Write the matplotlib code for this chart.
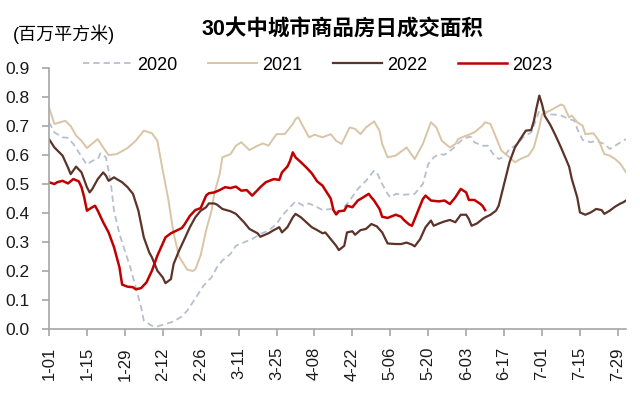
import numpy as np
import matplotlib
matplotlib.use("Agg")
import matplotlib.pyplot as plt

plt.rcParams['font.family'] = ['Liberation Sans', 'Noto Sans CJK SC', 'DejaVu Sans']

# day index counted from Jan 1 (0 = 1-01)
days_2020 = [0, 2, 5, 7, 9, 11, 13, 14, 16, 18, 19, 21, 22, 23, 24, 26, 28, 30, 32, 34,
             35, 38, 40, 43, 46, 49, 51, 54, 57, 60, 62, 64, 67, 69, 72, 75, 78, 81, 84, 86,
             89, 91, 94, 96, 99, 101, 104, 106, 108, 111, 114, 117, 120, 121, 123, 125, 126,
             128, 131, 135, 138, 140, 142, 144, 146, 149, 151, 152, 155, 156, 157, 160, 162,
             164, 166, 168, 170, 173, 175, 178, 179, 181, 182, 184, 187, 189, 192, 194, 195,
             197, 198, 200, 202, 205, 207, 209, 211, 213]
vals_2020 = [0.713, 0.678, 0.661, 0.659, 0.638, 0.609, 0.580, 0.567, 0.580, 0.586, 0.606,
             0.592, 0.546, 0.489, 0.408, 0.328, 0.270, 0.213, 0.144, 0.075, 0.029, 0.011,
             0.009, 0.017, 0.026, 0.043, 0.063, 0.105, 0.149, 0.178, 0.213, 0.236, 0.259,
             0.287, 0.299, 0.310, 0.328, 0.339, 0.362, 0.391, 0.420, 0.440, 0.425, 0.433,
             0.420, 0.410, 0.414, 0.405, 0.408, 0.443, 0.483, 0.511, 0.546, 0.540, 0.500,
             0.466, 0.454, 0.466, 0.463, 0.466, 0.500, 0.569, 0.592, 0.603, 0.601, 0.621,
             0.640, 0.649, 0.663, 0.661, 0.644, 0.632, 0.632, 0.603, 0.586, 0.594, 0.621,
             0.638, 0.661, 0.678, 0.701, 0.753, 0.759, 0.741, 0.739, 0.736, 0.724, 0.718,
             0.690, 0.652, 0.649, 0.644, 0.649, 0.638, 0.621, 0.632, 0.644, 0.655]

days_2021 = [0, 2, 6, 8, 10, 12, 14, 18, 20, 22, 25, 29, 32, 35, 38, 40, 42, 44, 46, 48,
             51, 53, 54, 56, 58, 60, 61, 63, 64, 67, 69, 71, 74, 77, 79, 81, 84, 87, 90, 91,
             92, 94, 96, 98, 101, 104, 106, 108, 111, 113, 115, 117, 120, 122, 123, 125, 128,
             132, 135, 138, 141, 143, 145, 148, 150, 151, 153, 155, 157, 160, 161, 163, 165,
             167, 170, 172, 174, 177, 179, 181, 182, 185, 187, 189, 190, 192, 193, 195, 197,
             198, 201, 203, 205, 207, 209, 211, 213]
vals_2021 = [0.764, 0.707, 0.718, 0.700, 0.667, 0.649, 0.624, 0.655, 0.626, 0.600, 0.603,
             0.624, 0.649, 0.684, 0.675, 0.649, 0.546, 0.450, 0.330, 0.250, 0.205, 0.200,
             0.205, 0.255, 0.340, 0.408, 0.466, 0.534, 0.592, 0.603, 0.632, 0.644, 0.617,
             0.632, 0.640, 0.632, 0.672, 0.672, 0.707, 0.724, 0.730, 0.695, 0.661, 0.670,
             0.661, 0.672, 0.649, 0.638, 0.695, 0.690, 0.672, 0.695, 0.716, 0.684, 0.638,
             0.592, 0.598, 0.626, 0.586, 0.638, 0.713, 0.695, 0.649, 0.626, 0.638, 0.655,
             0.663, 0.670, 0.678, 0.701, 0.713, 0.707, 0.661, 0.615, 0.592, 0.575, 0.586,
             0.598, 0.626, 0.695, 0.741, 0.753, 0.764, 0.774, 0.770, 0.730, 0.736, 0.713,
             0.701, 0.672, 0.675, 0.649, 0.603, 0.598, 0.586, 0.569, 0.540]

days_2022 = [0, 2, 5, 7, 8, 10, 12, 14, 15, 16, 18, 20, 21, 22, 24, 25, 27, 29, 31, 33,
             35, 37, 38, 40, 42, 43, 45, 46, 48, 50, 52, 54, 56, 58, 59, 61, 62, 64, 67, 69,
             72, 74, 77, 78, 81, 83, 85, 86, 88, 90, 91, 93, 95, 97, 99, 101, 102, 104, 106,
             107, 109, 110, 112, 113, 115, 117, 119, 121, 123, 125, 128, 130, 132, 134, 135,
             137, 139, 141, 142, 144, 146, 148, 150, 152, 154, 155, 156, 158, 160, 161, 163,
             165, 166, 168, 170, 172, 174, 176, 178, 179, 180, 181, 182, 183, 185, 187, 189,
             192, 193, 195, 196, 198, 200, 202, 204, 205, 207, 209, 211, 212, 213]
vals_2022 = [0.655, 0.626, 0.598, 0.557, 0.534, 0.560, 0.540, 0.489, 0.471, 0.483, 0.517,
             0.540, 0.529, 0.511, 0.523, 0.517, 0.506, 0.489, 0.466, 0.408, 0.316, 0.264,
             0.247, 0.201, 0.178, 0.158, 0.172, 0.224, 0.270, 0.310, 0.351, 0.385, 0.408,
             0.420, 0.433, 0.433, 0.429, 0.414, 0.406, 0.397, 0.368, 0.345, 0.330, 0.318,
             0.330, 0.341, 0.351, 0.333, 0.351, 0.385, 0.397, 0.385, 0.368, 0.351, 0.341,
             0.330, 0.333, 0.310, 0.287, 0.272, 0.287, 0.333, 0.337, 0.325, 0.341, 0.345,
             0.362, 0.354, 0.333, 0.295, 0.293, 0.293, 0.298, 0.291, 0.285, 0.310, 0.351,
             0.374, 0.356, 0.364, 0.371, 0.376, 0.368, 0.394, 0.394, 0.379, 0.356, 0.364,
             0.379, 0.385, 0.394, 0.408, 0.425, 0.500, 0.575, 0.626, 0.655, 0.684, 0.686,
             0.718, 0.764, 0.805, 0.775, 0.735, 0.705, 0.667, 0.626, 0.560, 0.517, 0.454,
             0.402, 0.394, 0.402, 0.414, 0.410, 0.397, 0.408, 0.422, 0.433, 0.437, 0.443]

days_2023 = [0, 2, 3, 5, 7, 9, 11, 12, 13, 14, 16, 17, 18, 20, 22, 24, 26, 27, 29, 31,
             32, 34, 36, 38, 40, 42, 43, 45, 47, 49, 50, 52, 54, 56, 58, 59, 61, 63, 65, 67,
             69, 71, 73, 75, 77, 78, 80, 83, 85, 86, 88, 89, 90, 91, 93, 95, 97, 99, 101,
             102, 104, 105, 106, 107, 109, 110, 112, 114, 116, 118, 119, 120, 122, 123, 125,
             128, 130, 131, 133, 134, 136, 138, 139, 141, 144, 146, 148, 150, 152, 154, 155,
             157, 159, 160, 161]
vals_2023 = [0.506, 0.500, 0.506, 0.511, 0.502, 0.517, 0.509, 0.489, 0.454, 0.408, 0.420,
             0.425, 0.408, 0.368, 0.333, 0.282, 0.213, 0.153, 0.146, 0.144, 0.137, 0.141,
             0.161, 0.201, 0.253, 0.295, 0.316, 0.330, 0.339, 0.348, 0.360, 0.390, 0.410,
             0.417, 0.460, 0.468, 0.471, 0.479, 0.489, 0.486, 0.491, 0.477, 0.479, 0.460,
             0.479, 0.489, 0.506, 0.517, 0.514, 0.540, 0.560, 0.580, 0.609, 0.592, 0.575,
             0.557, 0.537, 0.509, 0.494, 0.479, 0.450, 0.410, 0.395, 0.406, 0.408, 0.425,
             0.420, 0.443, 0.454, 0.466, 0.454, 0.443, 0.414, 0.387, 0.383, 0.394, 0.387,
             0.376, 0.360, 0.356, 0.402, 0.448, 0.460, 0.443, 0.440, 0.443, 0.431, 0.454,
             0.483, 0.471, 0.445, 0.445, 0.433, 0.425, 0.410]

tick_days = list(range(0, 211, 14))
tick_labels = ["1-01", "1-15", "1-29", "2-12", "2-26", "3-11", "3-25", "4-08",
               "4-22", "5-06", "5-20", "6-03", "6-17", "7-01", "7-15", "7-29"]

fig = plt.figure(figsize=(6.4, 3.96), dpi=100)
ax = fig.add_axes([49/640, 1-329/396, (626-49)/640, (329-68)/396])

ax.plot(days_2020, vals_2020, color='#B8BECC', lw=1.3, dashes=(3.5, 2.2), label='2020')
ax.plot(days_2021, vals_2021, color='#D9C5A5', lw=1.4, label='2021')
ax.plot(days_2022, vals_2022, color='#5C3328', lw=1.6, label='2022')
ax.plot(days_2023, vals_2023, color='#C00000', lw=1.8, label='2023')

ax.set_xlim(0, 213)
ax.set_ylim(0, 0.9)
ax.set_yticks(np.arange(0, 0.91, 0.1))
ax.set_yticklabels([f"{v:.1f}" for v in np.arange(0, 0.91, 0.1)], fontsize=12.5)
ax.set_xticks(tick_days)
ax.set_xticklabels(tick_labels, rotation=90, fontsize=12)

for s in ['top', 'right']:
    ax.spines[s].set_visible(False)
for s in ['left', 'bottom']:
    ax.spines[s].set_color('#A6A6A6')
    ax.spines[s].set_linewidth(1.2)
ax.tick_params(axis='both', colors='#A6A6A6', length=5, width=1.2, labelcolor='#1a1a1a')
ax.tick_params(axis='y', pad=9)
ax.tick_params(axis='x', pad=8)

fig.legend(loc='center', bbox_to_anchor=(318/640, 1-65/396), ncol=4, frameon=False,
           fontsize=13, handlelength=2.7, handletextpad=0.3, columnspacing=1.7)

fig.text(342/640, 1-30/396, "30大中城市商品房日成交面积", ha='center', va='center',
         fontsize=15.5, fontweight='bold')
fig.text(13/640, 1-34/396, "(百万平方米)", ha='left', va='center', fontsize=13)

fig.savefig("out.png", dpi=100)
